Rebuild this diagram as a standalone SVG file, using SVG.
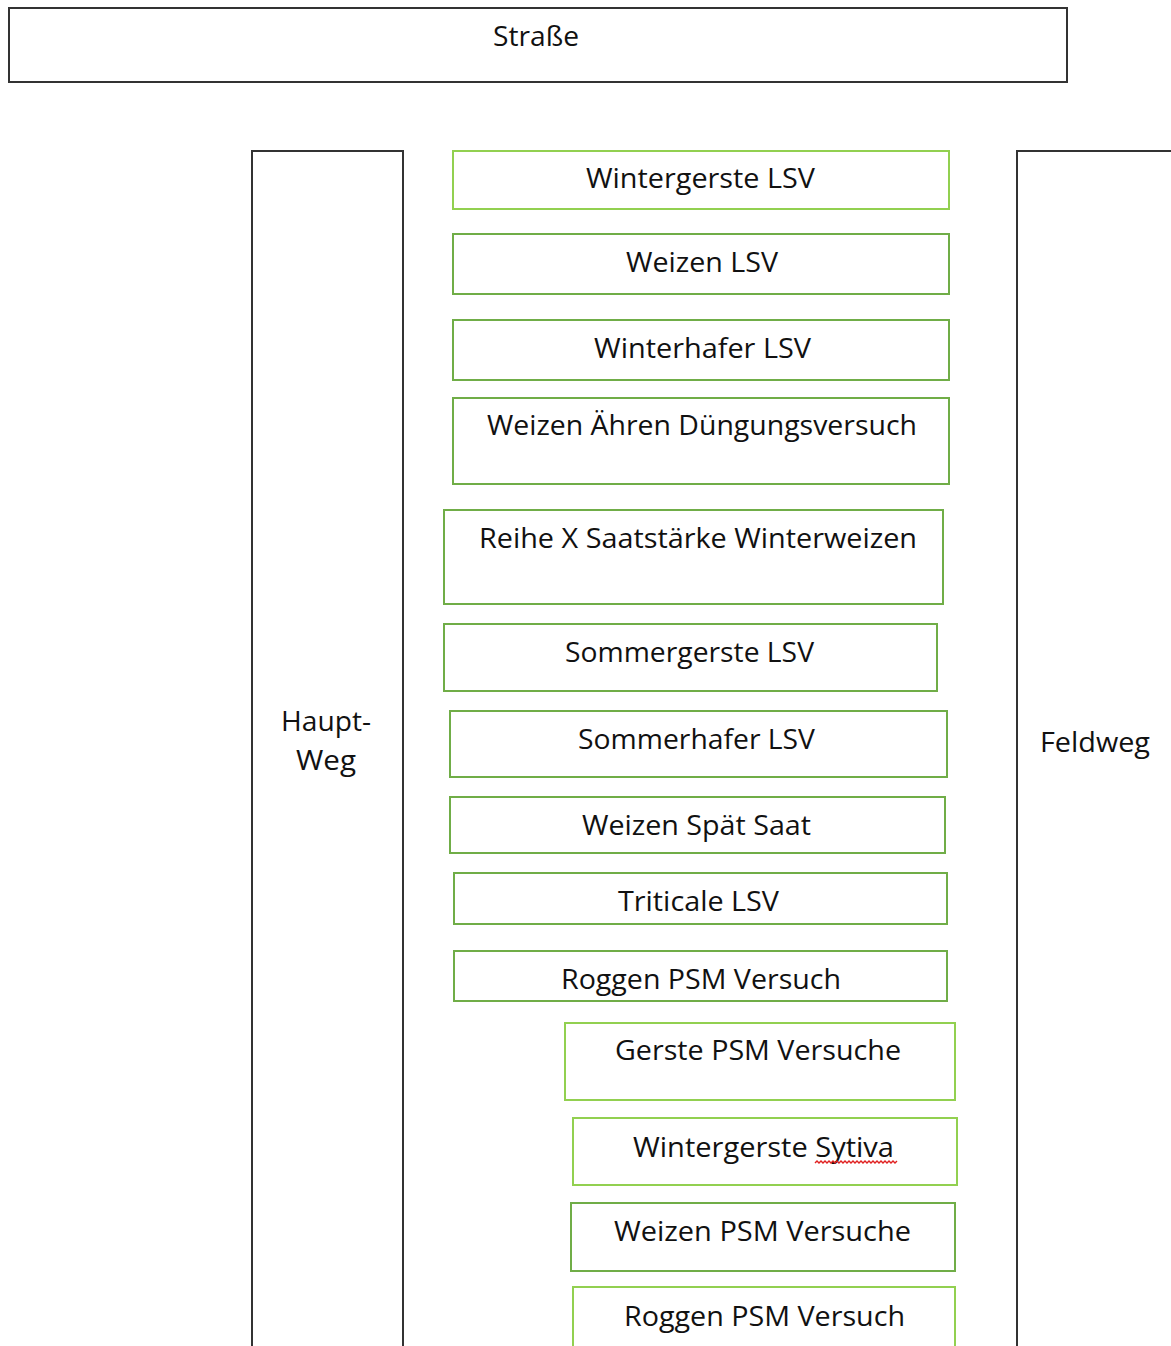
<svg xmlns="http://www.w3.org/2000/svg" width="1171" height="1346" viewBox="0 0 1171 1346">
<style>
.road{fill:#fff;stroke:#333;stroke-width:2}
.g1{fill:#fff;stroke:#92d050;stroke-width:2}
.g2{fill:#fff;stroke:#70ad47;stroke-width:2}
text{font-family:"Open Sans","Noto Sans","Liberation Sans",sans-serif;font-size:27px;fill:#111}
</style>
<rect width="1171" height="1346" fill="#fff"/>
<g id="strasse"><rect class="road" x="9" y="8" width="1058" height="74"/><text x="493" y="46" textLength="86" lengthAdjust="spacingAndGlyphs">Straße</text></g>
<g id="hauptweg"><rect class="road" x="252" y="151" width="151" height="1210"/><text x="281" y="731" textLength="90" lengthAdjust="spacingAndGlyphs">Haupt-</text><text x="296" y="770" textLength="60" lengthAdjust="spacingAndGlyphs">Weg</text></g>
<g id="feldweg"><rect class="road" x="1017" y="151" width="170" height="1210"/><text x="1040" y="752" textLength="110" lengthAdjust="spacingAndGlyphs">Feldweg</text></g>
<g id="n1"><rect class="g1" x="453" y="151" width="496" height="58"/><text x="586" y="188" textLength="229" lengthAdjust="spacingAndGlyphs">Wintergerste LSV</text></g>
<g id="n2"><rect class="g2" x="453" y="234" width="496" height="60"/><text x="626" y="272" textLength="152" lengthAdjust="spacingAndGlyphs">Weizen LSV</text></g>
<g id="n3"><rect class="g2" x="453" y="320" width="496" height="60"/><text x="594" y="358" textLength="217" lengthAdjust="spacingAndGlyphs">Winterhafer LSV</text></g>
<g id="n4"><rect class="g2" x="453" y="398" width="496" height="86"/><text x="487" y="435" textLength="430" lengthAdjust="spacingAndGlyphs">Weizen Ähren Düngungsversuch</text></g>
<g id="n5"><rect class="g2" x="444" y="510" width="499" height="94"/><text x="479" y="548" textLength="438" lengthAdjust="spacingAndGlyphs">Reihe X Saatstärke Winterweizen</text></g>
<g id="n6"><rect class="g2" x="444" y="624" width="493" height="67"/><text x="565" y="662" textLength="249" lengthAdjust="spacingAndGlyphs">Sommergerste LSV</text></g>
<g id="n7"><rect class="g2" x="450" y="711" width="497" height="66"/><text x="578" y="749" textLength="237" lengthAdjust="spacingAndGlyphs">Sommerhafer LSV</text></g>
<g id="n8"><rect class="g2" x="450" y="797" width="495" height="56"/><text x="582" y="835" textLength="229" lengthAdjust="spacingAndGlyphs">Weizen Spät Saat</text></g>
<g id="n9"><rect class="g2" x="454" y="873" width="493" height="51"/><text x="618" y="911" textLength="161" lengthAdjust="spacingAndGlyphs">Triticale LSV</text></g>
<g id="n10"><rect class="g2" x="454" y="951" width="493" height="50"/><text x="561" y="989" textLength="280" lengthAdjust="spacingAndGlyphs">Roggen PSM Versuch</text></g>
<g id="n11"><rect class="g1" x="565" y="1023" width="390" height="77"/><text x="615" y="1060" textLength="286" lengthAdjust="spacingAndGlyphs">Gerste PSM Versuche</text></g>
<g id="n12"><rect class="g1" x="573" y="1118" width="384" height="67"/><text x="633" y="1157" textLength="261" lengthAdjust="spacingAndGlyphs">Wintergerste Sytiva</text><path d="M815 1163 l2 -2 l2 2 l2 -2 l2 2 l2 -2 l2 2 l2 -2 l2 2 l2 -2 l2 2 l2 -2 l2 2 l2 -2 l2 2 l2 -2 l2 2 l2 -2 l2 2 l2 -2 l2 2 l2 -2 l2 2 l2 -2 l2 2 l2 -2 l2 2 l2 -2 l2 2 l2 -2 l2 2 l2 -2 l2 2 l2 -2 l2 2 l2 -2 l2 2 l2 -2 l2 2 l2 -2 l2 2 l2 -2" fill="none" stroke="#e02020" stroke-width="1.4"/></g>
<g id="n13"><rect class="g2" x="571" y="1203" width="384" height="68"/><text x="614" y="1241" textLength="297" lengthAdjust="spacingAndGlyphs">Weizen PSM Versuche</text></g>
<g id="n14"><rect class="g1" x="573" y="1287" width="382" height="80"/><text x="624" y="1326" textLength="281" lengthAdjust="spacingAndGlyphs">Roggen PSM Versuch</text></g>
<g id="connectors"></g>
</svg>
